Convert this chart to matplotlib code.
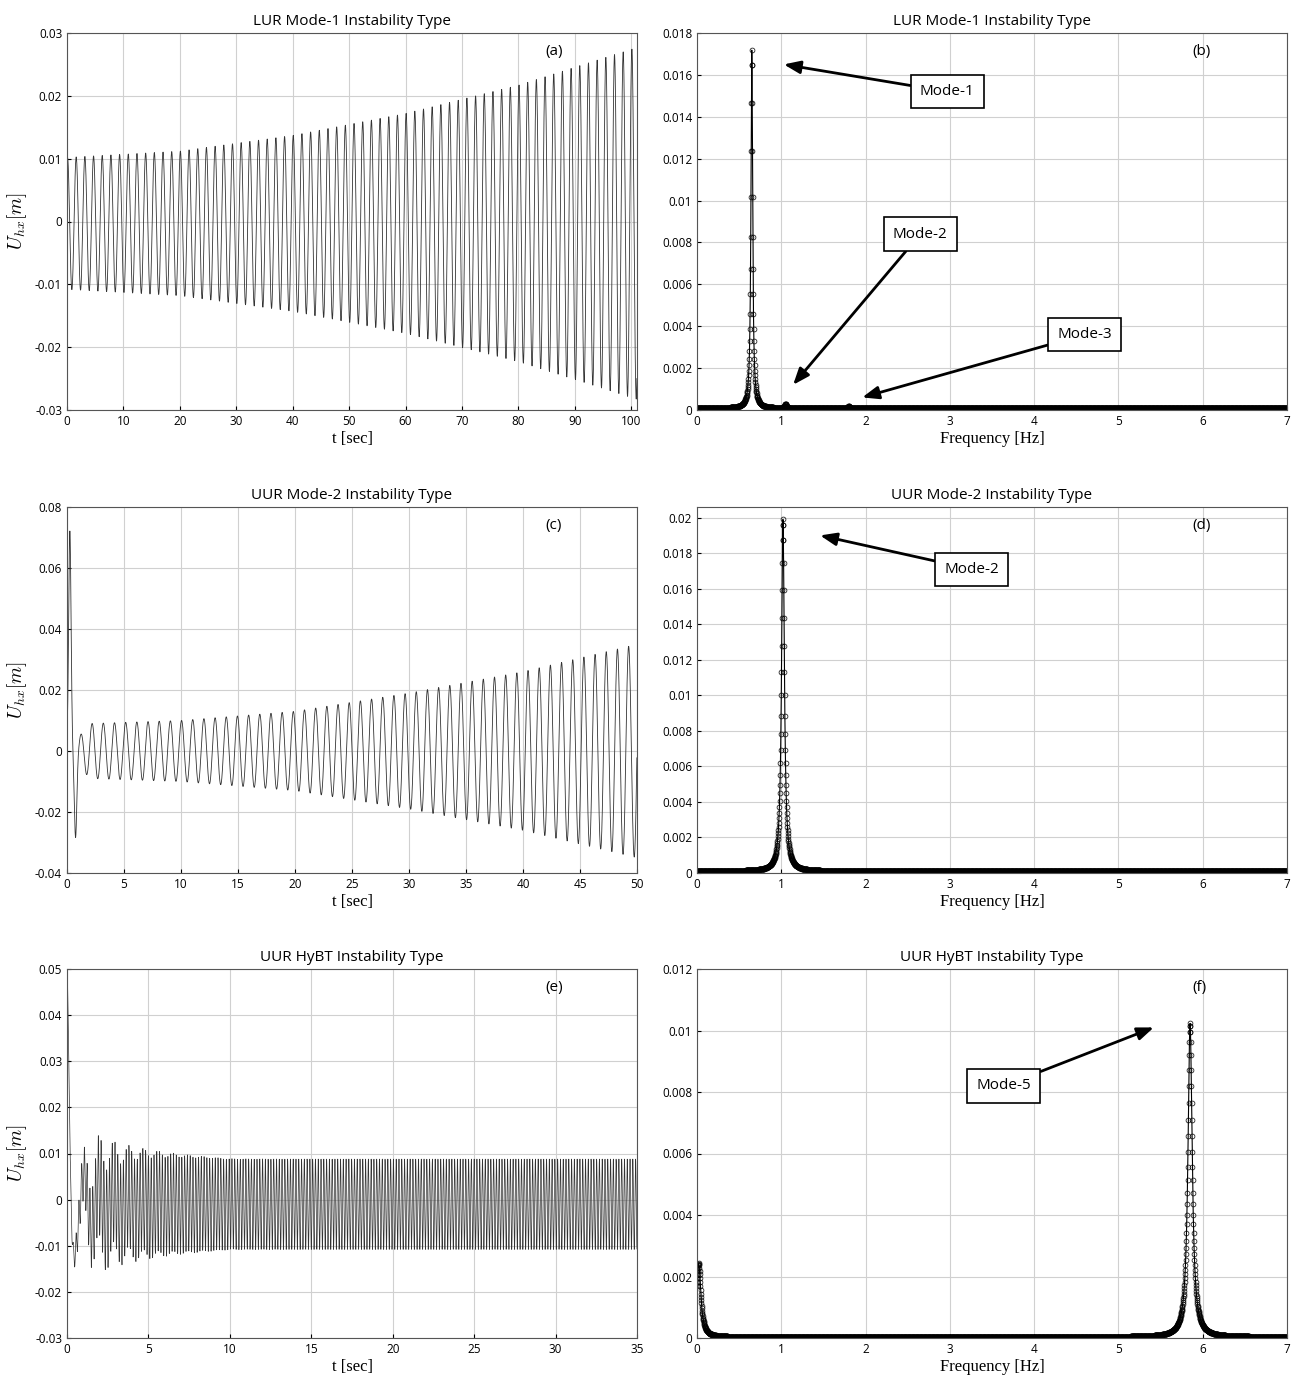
import numpy as np
import matplotlib.pyplot as plt

plt.rcParams['font.family'] = ['Open Sans', 'DejaVu Sans']
plt.rcParams['mathtext.fontset'] = 'cm'

# Time histories: dominant frequency (Hz) and envelope
f_a = 0.65
env_t_a = [0, 20, 40, 60, 80, 101]
env_a = [0.0105, 0.0115, 0.014, 0.0175, 0.022, 0.028]

f_c = 1.02
env_t_c = [0, 2, 10, 20, 30, 40, 50]
env_c = [0.0, 0.009, 0.010, 0.013, 0.019, 0.026, 0.035]
kick_c = 0.071       # initial spike (m)

f_e = 5.85
env_t_e = [0, 2, 5, 10, 20, 35]
env_e = [0.0, 0.011, 0.011, 0.0098, 0.0098, 0.0098]
kick_e = 0.048

# Spectra: peak frequencies (Hz), peak heights and widths
peaks_b = [0.65, 1.05, 1.8]
heights_b = [0.0171, 0.0002, 0.0001]
peaks_d = [1.02]
heights_d = [0.0198]
peaks_f = [0.02, 5.85]
heights_f = [0.0024, 0.0102]

titles = ["LUR Mode-1 Instability Type", "LUR Mode-1 Instability Type",
          "UUR Mode-2 Instability Type", "UUR Mode-2 Instability Type",
          "UUR HyBT Instability Type", "UUR HyBT Instability Type"]
tags = ["(a)", "(b)", "(c)", "(d)", "(e)", "(f)"]

W, H = 1298.0, 1392.0
plt.figure(figsize=(12.98, 13.92), dpi=100)

# axes boxes in pixels: left, top, right, bottom
boxes = [(67, 33, 637, 410), (697, 33, 1287, 410),
         (67, 507, 637, 873), (697, 507, 1287, 873),
         (67, 969, 637, 1338), (697, 969, 1287, 1338)]

def panel(i):
    l, t, r, b = boxes[i]
    return plt.axes([l / W, 1 - b / H, (r - l) / W, (b - t) / H])

def finish(i, xlabel, xlim, ylim, yticks):
    plt.xlim(*xlim)
    plt.ylim(*ylim)
    yticks = np.round(yticks, 6)
    plt.yticks(yticks, [("%g" % v) for v in yticks])
    plt.title(titles[i], fontsize=11)
    plt.xlabel(xlabel, family='Liberation Serif', fontsize=12, labelpad=2)
    plt.grid(True, color='#d0d0d0', linewidth=0.8)
    plt.tick_params(labelsize=8.5, direction='in', length=3)
    plt.text(0.84, 0.95, tags[i], transform=plt.gca().transAxes, fontsize=11,
             ha='left', va='center')
    for s in plt.gca().spines.values():
        s.set_color('#555555')

def spectrum(peaks, heights, width, base):
    f = np.arange(0, 7.0001, 0.0025)
    a = base * np.ones_like(f)
    for p, h in zip(peaks, heights):
        a = a + h / (1 + ((f - p) / width) ** 2)
    plt.plot(f, a, color='black', linewidth=0.8, marker='o', markersize=3.5,
             markerfacecolor='none', markeredgewidth=0.5)

def box(text, xy, xytext):
    plt.annotate(text, xy=xy, xytext=xytext, fontsize=11, ha='center', va='center',
                 bbox=dict(boxstyle='square,pad=0.6', fc='white', ec='black', lw=1.2),
                 arrowprops=dict(arrowstyle='-|>,head_width=0.35,head_length=0.9',
                                 color='black', lw=2, shrinkA=0, shrinkB=0))

# (a)
panel(0)
t = np.arange(0, 101, 0.02)
u = np.interp(t, env_t_a, env_a) * np.sin(2 * np.pi * f_a * t + 1.2) - 0.0003
plt.plot(t, u, color='#333333', linewidth=0.6)
plt.ylabel(r'$U_{hx}[m]$', fontsize=14)
plt.xticks(range(0, 101, 10))
finish(0, "t [sec]", (0, 101), (-0.03, 0.03), np.arange(-0.03, 0.031, 0.01))

# (b)
panel(1)
spectrum(peaks_b, heights_b, 0.012, 0.00008)
box("Mode-1", (1.03, 0.0165), (2.97, 0.0152))
box("Mode-2", (1.14, 0.0012), (2.65, 0.0084))
box("Mode-3", (1.96, 0.0006), (4.6, 0.0036))
plt.xticks(range(0, 8))
finish(1, "Frequency [Hz]", (0, 7), (0, 0.018), np.arange(0, 0.0181, 0.002))

# (c)
panel(2)
t = np.arange(0, 50, 0.01)
u = np.interp(t, env_t_c, env_c) * np.sin(2 * np.pi * f_c * t)
u = u + kick_c * np.exp(-((t - 0.25) / 0.15) ** 2) - 0.025 * np.exp(-((t - 0.75) / 0.15) ** 2)
plt.plot(t, u, color='#333333', linewidth=0.6)
plt.ylabel(r'$U_{hx}[m]$', fontsize=14)
plt.xticks(range(0, 51, 5))
finish(2, "t [sec]", (0, 50), (-0.04, 0.08), np.arange(-0.04, 0.081, 0.02))

# (d)
panel(3)
spectrum(peaks_d, heights_d, 0.02, 0.0001)
box("Mode-2", (1.46, 0.019), (3.26, 0.0171))
plt.xticks(range(0, 8))
finish(3, "Frequency [Hz]", (0, 7), (0, 0.0206), np.arange(0, 0.0201, 0.002))

# (e)
panel(4)
t = np.arange(0, 35, 0.004)
u = np.interp(t, env_t_e, env_e) * np.sin(2 * np.pi * f_e * t) - 0.001
u = u + kick_e * np.exp(-t / 0.25) * np.cos(2 * np.pi * 1.3 * t) \
    + 0.012 * np.exp(-t / 2.0) * np.sin(2 * np.pi * 1.1 * t + 0.5)
plt.plot(t, u, color='#333333', linewidth=0.5)
plt.ylabel(r'$U_{hx}[m]$', fontsize=14)
plt.xticks(range(0, 36, 5))
finish(4, "t [sec]", (0, 35), (-0.03, 0.05), np.arange(-0.03, 0.051, 0.01))

# (f)
panel(5)
spectrum(peaks_f, heights_f, 0.03, 0.00003)
box("Mode-5", (5.42, 0.0101), (3.64, 0.0082))
plt.xticks(range(0, 8))
finish(5, "Frequency [Hz]", (0, 7), (0, 0.012), np.arange(0, 0.0121, 0.002))

plt.savefig("out.png", dpi=100)
